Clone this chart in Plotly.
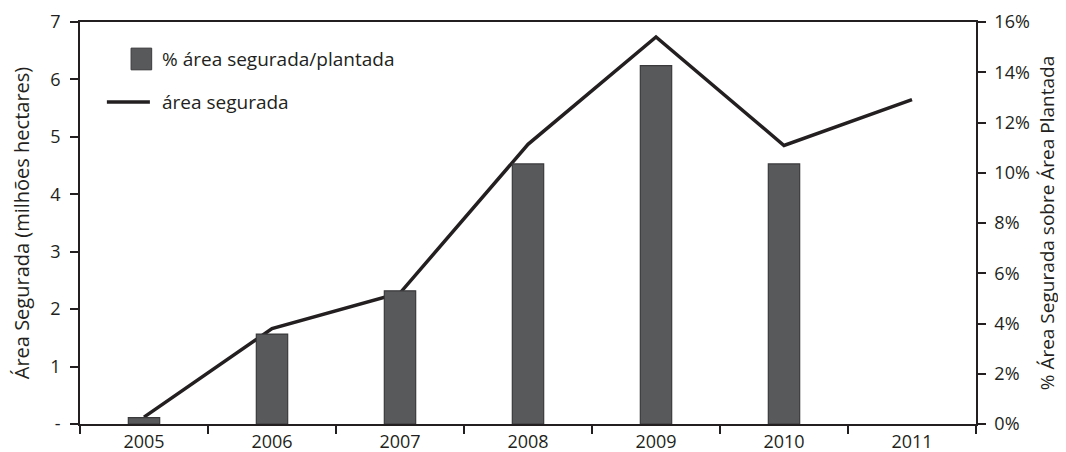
import plotly.graph_objects as go

years = ["2005", "2006", "2007", "2008", "2009", "2010", "2011"]
area_segurada = [0.12, 1.66, 2.28, 4.87, 6.74, 4.85, 5.65]  # milhões hectares
pct_segurada = [0.0025, 0.0358, 0.053, 0.1035, 0.1426, 0.1035, None]  # fração
left_ticks = [0, 1, 2, 3, 4, 5, 6, 7]
left_labels = ["-", "1", "2", "3", "4", "5", "6", "7"]
right_ticks = [0, 0.02, 0.04, 0.06, 0.08, 0.10, 0.12, 0.14, 0.16]
legend_bar = "% área segurada/plantada"
legend_line = "área segurada"

FONT = "Open Sans"
TXT = "#231f20"
BAR = "#58595b"

fig = go.Figure()
fig.add_trace(go.Bar(
    x=years, y=pct_segurada, yaxis="y2", name=legend_bar,
    width=0.245, marker=dict(color=BAR, line=dict(color="#3a3a3c", width=1.2)),
    showlegend=False,
))
fig.add_trace(go.Scatter(
    x=years, y=area_segurada, yaxis="y", name=legend_line, mode="lines",
    line=dict(color=TXT, width=3.5), showlegend=False,
))

axis_common = dict(showgrid=False, zeroline=False, showline=True, linecolor=TXT,
                   linewidth=1.5, ticks="outside", ticklen=8, tickcolor=TXT,
                   tickwidth=1.5, tickfont=dict(family=FONT, size=18, color=TXT),
                   automargin=False)

# custom legend (paper coordinates)
fig.add_shape(type="rect", xref="paper", yref="paper", x0=0.057, x1=0.080, y0=0.881, y1=0.935,
              fillcolor=BAR, line=dict(color="#3a3a3c", width=1))
fig.add_shape(type="line", xref="paper", yref="paper", x0=0.030, x1=0.078, y0=0.801, y1=0.801,
              line=dict(color=TXT, width=3.5))
fig.add_annotation(text=legend_bar, xref="paper", yref="paper", x=0.089, y=0.908,
                   xanchor="left", yanchor="middle", showarrow=False,
                   font=dict(family=FONT, size=19, color=TXT))
fig.add_annotation(text=legend_line, xref="paper", yref="paper", x=0.089, y=0.801,
                   xanchor="left", yanchor="middle", showarrow=False,
                   font=dict(family=FONT, size=19, color=TXT))

fig.update_layout(
    width=1058, height=444,
    margin=dict(l=72, r=90, t=14, b=28),
    paper_bgcolor="white", plot_bgcolor="white",
    font=dict(family=FONT, size=18, color=TXT),
    barmode="overlay",
    xaxis=dict(**axis_common, type="category", tickson="boundaries", mirror=True,
               ticklabelstandoff=1),
    yaxis=dict(**axis_common, range=[0, 7], tickvals=left_ticks, ticktext=left_labels,
               ticklabelstandoff=6,
               title=dict(text="Área Segurada (milhões hectares)", font=dict(size=20), standoff=26)),
    yaxis2=dict(**axis_common, overlaying="y", side="right", range=[0, 0.16],
                tickvals=right_ticks, tickformat=".0%", ticklabelstandoff=5,
                title=dict(text="% Área Segurada sobre Área Plantada", font=dict(size=19), standoff=12)),
    showlegend=False,
)

fig.write_html("out.html")
